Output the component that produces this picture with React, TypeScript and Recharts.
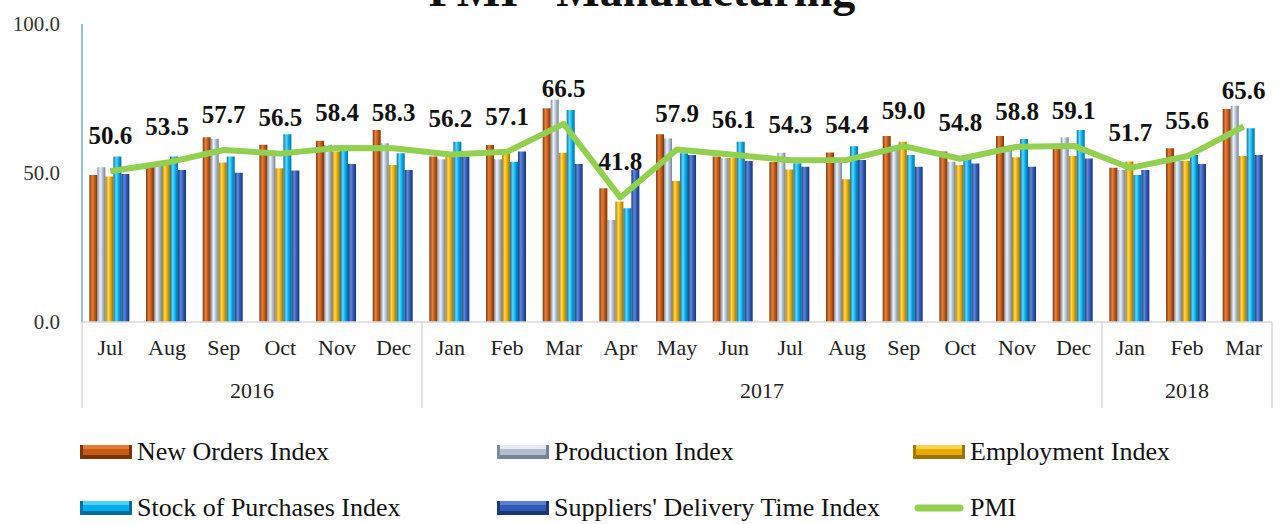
import { ComposedChart, Bar, Line, XAxis, YAxis, LabelList } from 'recharts'

const months = ['Jul', 'Aug', 'Sep', 'Oct', 'Nov', 'Dec', 'Jan', 'Feb', 'Mar', 'Apr', 'May', 'Jun', 'Jul', 'Aug', 'Sep', 'Oct', 'Nov', 'Dec', 'Jan', 'Feb', 'Mar']
const years = ['2016', '2016', '2016', '2016', '2016', '2016', '2017', '2017', '2017', '2017', '2017', '2017', '2017', '2017', '2017', '2017', '2017', '2017', '2018', '2018', '2018']

const newOrders = [49.3, 52.7, 62.0, 59.5, 60.8, 64.4, 55.5, 59.4, 71.7, 44.9, 63.0, 55.5, 53.7, 56.9, 62.4, 57.2, 62.4, 58.5, 51.8, 58.3, 71.5]
const production = [51.9, 53.3, 61.5, 57.5, 59.5, 60.0, 54.6, 54.6, 74.7, 34.2, 61.6, 55.0, 56.8, 55.0, 59.0, 53.8, 58.0, 62.0, 51.0, 54.1, 72.6]
const employment = [48.8, 53.0, 53.5, 51.6, 57.2, 52.7, 55.5, 57.2, 56.8, 40.4, 47.3, 55.0, 51.2, 47.9, 60.5, 52.7, 55.3, 55.7, 53.9, 54.1, 55.7]
const stockOfPurchases = [55.5, 55.5, 55.5, 63.0, 58.3, 56.6, 60.5, 53.8, 71.1, 38.2, 56.6, 60.5, 53.3, 59.0, 56.0, 55.0, 61.4, 64.4, 49.3, 56.0, 65.0]
const supplierDelivery = [49.7, 51.0, 50.1, 50.8, 53.0, 51.0, 55.5, 57.2, 53.0, 51.0, 56.0, 54.0, 52.1, 54.4, 52.1, 53.2, 52.1, 54.9, 51.0, 53.0, 56.0]
const pmi = [50.6, 53.5, 57.7, 56.5, 58.4, 58.3, 56.2, 57.1, 66.5, 41.8, 57.9, 56.1, 54.3, 54.4, 59.0, 54.8, 58.8, 59.1, 51.7, 55.6, 65.6]

const yTicks = [0, 50, 100]

const data = months.map((month, i) => ({
  month,
  year: years[i],
  newOrders: newOrders[i],
  production: production[i],
  employment: employment[i],
  stock: stockOfPurchases[i],
  supplier: supplierDelivery[i],
  pmi: pmi[i],
}))

const FONT = '"Liberation Serif", "Times New Roman", serif'

const series = [
  { key: 'newOrders', name: 'New Orders Index', id: 'g-orders', stops: ['#7e3407', '#e6813f', '#c55a11', '#7a3206'] },
  { key: 'production', name: 'Production Index', id: 'g-prod', stops: ['#7b8ca3', '#eef3f9', '#b2bfcf', '#74849a'] },
  { key: 'employment', name: 'Employment Index', id: 'g-emp', stops: ['#a87a00', '#ffd85a', '#e8aa00', '#9c7200'] },
  { key: 'stock', name: 'Stock of Purchases Index', id: 'g-stock', stops: ['#0372a3', '#63d6fb', '#00aeef', '#046c9c'] },
  { key: 'supplier', name: "Suppliers' Delivery Time Index", id: 'g-supp', stops: ['#1b3a80', '#5f8ad9', '#2f5bb7', '#1a3474'] },
]

function MonthTick(props: any) {
  const { x, y, payload, index } = props
  const half = payload.offset || 28.33
  const yr = years[index]
  const first = index === 0 || years[index - 1] !== yr
  const last = index === months.length - 1
  let span = 0
  if (first) {
    for (let j = index; j < years.length && years[j] === yr; j++) span++
  }
  return (
    <g>
      <text x={x} y={y + 28} textAnchor="middle" dominantBaseline="middle" fontSize={22} fontFamily={FONT} fill="#222">
        {payload.value}
      </text>
      {first && <line x1={x - half} x2={x - half} y1={y} y2={y + 86} stroke="#d9d9d9" strokeWidth={1.5} />}
      {last && <line x1={x + half} x2={x + half} y1={y} y2={y + 86} stroke="#d9d9d9" strokeWidth={1.5} />}
      {first && (
        <text x={x - half + span * half} y={y + 71} textAnchor="middle" dominantBaseline="middle" fontSize={22} fontFamily={FONT} fill="#222">
          {yr}
        </text>
      )}
    </g>
  )
}

function PmiLabel(props: any) {
  const { x, y, value } = props
  return (
    <text x={x} y={y - 33} textAnchor="middle" dominantBaseline="middle" fontSize={25} fontWeight="bold" fontFamily={FONT} fill="#111">
      {Number(value).toFixed(1)}
    </text>
  )
}

function LegendIcon({ stops, line }: { stops?: string[]; line?: boolean }) {
  if (line) {
    return (
      <svg width={52} height={14}>
        <line x1={5} x2={47} y1={7} y2={7} stroke="#92d050" strokeWidth={7} strokeLinecap="round" />
      </svg>
    )
  }
  return (
    <svg width={52} height={14}>
      <rect x={0} y={0} width={52} height={14} fill={stops![2]} />
      <rect x={0} y={0} width={52} height={4} fill={stops![1]} opacity={0.85} />
      <rect x={0} y={10} width={52} height={4} fill={stops![3]} />
      <rect x={0} y={0} width={3} height={14} fill={stops![0]} />
      <rect x={49} y={0} width={3} height={14} fill={stops![3]} />
    </svg>
  )
}

export default function App() {
  const legendItems = [
    ...series.map((s) => ({ name: s.name, stops: s.stops, line: false })),
    { name: 'PMI', stops: undefined, line: true },
  ]
  const colX = [80, 497, 913]
  const rowY = [452, 508]

  return (
    <div style={{ position: 'absolute', left: 0, top: 0, width: 1282, height: 524, background: '#fff', overflow: 'hidden' }}>
      <svg width={1282} height={30} style={{ position: 'absolute', left: 0, top: 0 }}>
        <text x={642} y={6} textAnchor="middle" fontSize={46} fontWeight="bold" fontFamily={FONT} fill="#111">
          PMI - Manufacturing
        </text>
      </svg>
      <ComposedChart
        width={1282}
        height={524}
        data={data}
        margin={{ top: 24, right: 10, left: 0, bottom: 116 }}
        barCategoryGap="13%"
        barGap={0}
      >
        <defs>
          {series.map((s) => (
            <linearGradient key={s.id} id={s.id} x1="0" y1="0" x2="1" y2="0">
              <stop offset="0%" stopColor={s.stops[0]} />
              <stop offset="35%" stopColor={s.stops[1]} />
              <stop offset="65%" stopColor={s.stops[2]} />
              <stop offset="100%" stopColor={s.stops[3]} />
            </linearGradient>
          ))}
        </defs>
        <YAxis
          width={82}
          domain={[0, 100]}
          ticks={yTicks}
          tickFormatter={(v: number) => v.toFixed(1)}
          axisLine={{ stroke: '#6fa8dc', strokeWidth: 1.5 }}
          tickLine={false}
          tickSize={0}
          tickMargin={22}
          tick={{ fontSize: 21, fontFamily: FONT, fill: '#333' }}
        />
        <XAxis
          dataKey="month"
          height={86}
          interval={0}
          axisLine={{ stroke: '#d9d9d9', strokeWidth: 1.5 }}
          tickLine={false}
          tickSize={0}
          tickMargin={0}
          tick={<MonthTick />}
        />
        {series.map((s) => (
          <Bar key={s.key} dataKey={s.key} name={s.name} fill={`url(#${s.id})`} isAnimationActive={false} />
        ))}
        <Line
          type="linear"
          dataKey="pmi"
          name="PMI"
          stroke="#92d050"
          strokeWidth={6}
          strokeLinejoin="round"
          dot={false}
          activeDot={false}
          isAnimationActive={false}
        >
          <LabelList dataKey="pmi" content={<PmiLabel />} />
        </Line>
      </ComposedChart>
      {legendItems.map((item, i) => (
        <div
          key={item.name}
          style={{
            position: 'absolute',
            left: colX[i % 3],
            top: rowY[Math.floor(i / 3)] - 15,
            height: 30,
            display: 'flex',
            alignItems: 'center',
            whiteSpace: 'nowrap',
          }}
        >
          <LegendIcon stops={item.stops} line={item.line} />
          <span style={{ marginLeft: 5, fontSize: 26, fontFamily: FONT, color: '#111' }}>{item.name}</span>
        </div>
      ))}
    </div>
  )
}
